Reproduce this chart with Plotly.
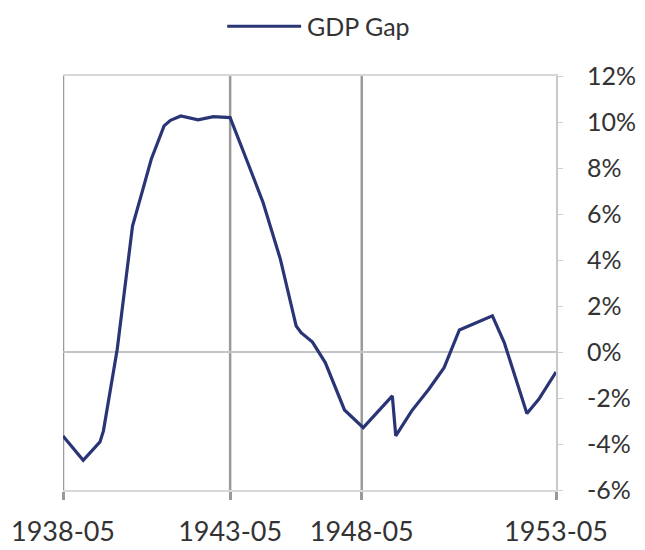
import plotly.graph_objects as go

# Position along the (unevenly labelled) category axis, 0..100
pos = [0, 4.1, 7.5, 8.2, 11.0, 14.1, 16.2, 17.9, 20.5, 21.8, 23.9, 27.4, 30.5, 33.9,
       37.2, 40.6, 44.1, 47.3, 48.3, 50.6, 53.2, 57.1, 60.9, 64.4, 66.8, 67.5, 70.7,
       74.2, 77.3, 80.4, 83.2, 87.1, 89.5, 94.1, 96.5, 100]
gdp_gap = [-3.65, -4.71, -3.91, -3.43, 0.12, 5.48, 7.07, 8.38, 9.83, 10.07, 10.26, 10.09,
           10.23, 10.19, 8.38, 6.49, 4.03, 1.13, 0.84, 0.43, -0.46, -2.52, -3.29, -2.49,
           -1.91, -3.65, -2.57, -1.62, -0.68, 0.96, 1.20, 1.57, 0.41, -2.67, -2.06, -0.87]

tick_pos = [0, 33.9, 60.6, 100]
tick_labels = ["1938-05", "1943-05", "1948-05", "1953-05"]
y_ticks = [-6, -4, -2, 0, 2, 4, 6, 8, 10, 12]
y_labels = ["-6%", "-4%", "-2%", "0%", "2%", "4%", "6%", "8%", "10%", "12%"]

FONT = "Lato"
TXT = "#333333"
LINE = "#2a3575"
GRID = "#9a9a9a"
PAD = "\u00a0\u00a0\u00a0"

fig = go.Figure()
fig.add_trace(go.Scatter(x=pos, y=gdp_gap, mode="lines", name="GDP Gap",
                         line=dict(color=LINE, width=3.2), showlegend=False))

fig.update_layout(
    width=637, height=542,
    margin=dict(l=55, r=89, t=68, b=60),
    paper_bgcolor="white", plot_bgcolor="white",
    font=dict(family=FONT, color=TXT, size=21),
    xaxis=dict(range=[0, 100], tickvals=tick_pos, ticktext=tick_labels,
               showgrid=False, automargin=False,
               showline=True, linecolor="#d8d8d8", linewidth=1.5, mirror=True,
               ticks="outside", ticklen=8, tickwidth=2.5, tickcolor=GRID,
               ticklabelstandoff=9, zeroline=False,
               tickfont=dict(size=27, color=TXT, family=FONT)),
    yaxis=dict(range=[-6, 12], tickvals=y_ticks, ticktext=[PAD + t for t in y_labels],
               side="right", showgrid=False, automargin=False,
               zeroline=True, zerolinecolor="#c4c4c4", zerolinewidth=2,
               showline=True, linecolor="#c8c8c8", linewidth=1.5,
               ticks="outside", ticklen=5, tickcolor="#d0d0d0",
               tickfont=dict(size=25, color=TXT, family=FONT)),
)

# Dark vertical grid lines at the labelled positions (except right edge, which is the axis)
for xv in tick_pos[:-1]:
    fig.add_shape(type="line", xref="x", yref="paper", x0=xv, x1=xv, y0=0, y1=1,
                  line=dict(color=GRID, width=2.5), layer="below")

# Legend drawn manually (long line sample)
fig.add_shape(type="line", xref="paper", yref="paper", x0=0.333, x1=0.483, y0=1.12, y1=1.12,
              line=dict(color=LINE, width=3))
fig.add_annotation(xref="paper", yref="paper", x=0.49, y=1.12, text="GDP Gap",
                   showarrow=False, xanchor="left", yanchor="middle",
                   font=dict(family=FONT, size=25, color=TXT))

fig.write_html("out.html")
